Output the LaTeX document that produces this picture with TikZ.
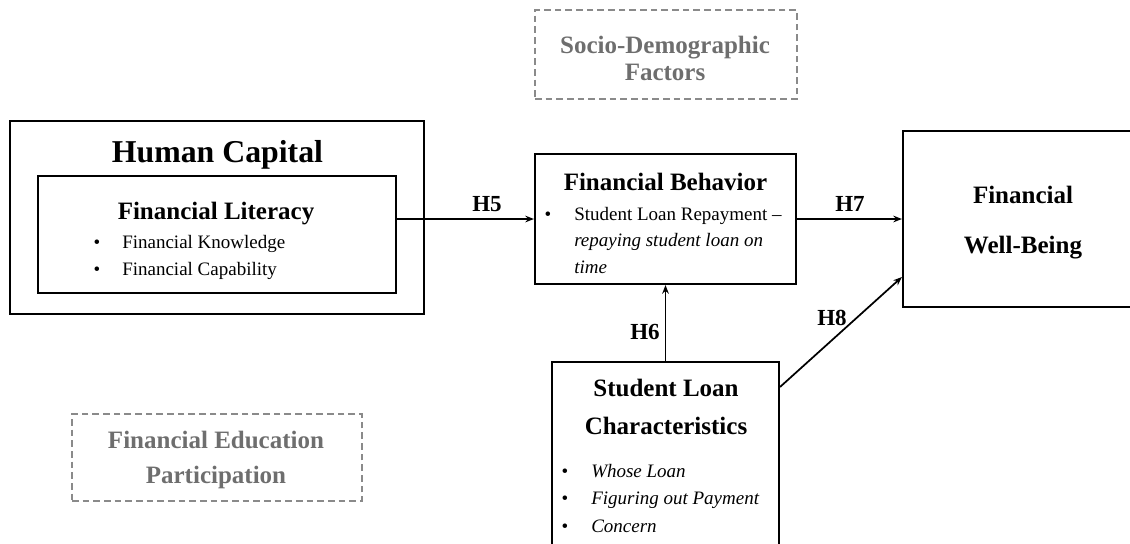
\documentclass[tikz,border=0pt]{standalone}
\usepackage{fontspec}
\setmainfont{Liberation Serif}
\usetikzlibrary{arrows.meta}
\definecolor{dgray}{HTML}{8A8A8A}
\definecolor{tgray}{HTML}{6E6E6E}
\begin{document}
\begin{tikzpicture}[x=0.75pt,y=-0.75pt,
  box/.style={draw, line width=1.6pt, inner sep=0pt},
  thinbox/.style={draw, line width=1pt, inner sep=0pt},
  dbox/.style={draw=dgray, line width=1pt, dash pattern=on 5pt off 3pt, inner sep=0pt},
  head/.style={font=\bfseries\fontsize{18.75}{22}\selectfont, anchor=base, inner sep=0pt},
  bighead/.style={font=\bfseries\fontsize{23.85}{28}\selectfont, anchor=base, inner sep=0pt},
  ghead/.style={head, text=tgray},
  itemtxt/.style={font=\fontsize{14.25}{17}\selectfont, anchor=base west, inner sep=0pt},
  bul/.style={font=\fontsize{14.25}{17}\selectfont, anchor=base, inner sep=0pt},
  hlab/.style={font=\bfseries\fontsize{17.25}{20}\selectfont, anchor=base, inner sep=0pt},
  arr/.style={line width=1.3pt, -{Stealth[length=6.5pt,width=5pt]}},
  conn/.style={line width=1.3pt}
]
\useasboundingbox (0,0) rectangle (1130,543);
\clip (0,0) rectangle (1130,543);

% boxes
\node[box, minimum width=310.5pt, minimum height=144.75pt] (hc) at (217,217.5) {};
\node[thinbox, minimum width=268.5pt, minimum height=87.75pt] (fl) at (217,234.5) {};
\node[box, minimum width=195.75pt, minimum height=97.5pt] (fb) at (665.5,219) {};
\node[box, minimum width=180pt, minimum height=132pt] (wb) at (1023,219) {};
\node[box, minimum width=170.25pt, minimum height=163.5pt] (slc) at (665.5,471) {};
\node[dbox, minimum width=196.5pt, minimum height=66.75pt] (sdf) at (666,54.5) {};
\node[dbox, minimum width=217.5pt, minimum height=65.25pt] (fep) at (217,457.5) {};

% Human capital
\node[bighead] (hct) at (217.5,162) {Human Capital};
\node[head] (flt) at (216,219) {Financial Literacy};
\node[bul] (flb1) at (97,248) {•};
\node[itemtxt] (fli1) at (122,248) {Financial Knowledge};
\node[bul] (flb2) at (97,275) {•};
\node[itemtxt] (fli2) at (122,275) {Financial Capability};

% Financial behavior
\node[head] (fbt) at (665.5,190) {Financial Behavior};
\node[bul] (fbb1) at (548,220) {•};
\node[itemtxt] (fbi1) at (574,220) {Student Loan Repayment –};
\node[itemtxt] (fbi2) at (574,246.5) {\itshape repaying student loan on};
\node[itemtxt] (fbi3) at (574,273) {\itshape time};

% Financial well-being
\node[head] (wbt1) at (1023,203) {Financial};
\node[head] (wbt2) at (1023,253) {Well-Being};

% Student loan characteristics
\node[head] (slt1) at (666,396) {Student Loan};
\node[head] (slt2) at (666,434) {Characteristics};
\node[bul] (slb1) at (565,477) {•};
\node[itemtxt] (sli1) at (591,477) {\itshape Whose Loan};
\node[bul] (slb2) at (565,504) {•};
\node[itemtxt] (sli2) at (591,504) {\itshape Figuring out Payment};
\node[bul] (slb3) at (565,532) {•};
\node[itemtxt] (sli3) at (591,532) {\itshape Concern};

% dashed boxes text
\node[ghead] (sdft1) at (665,53) {Socio-Demographic};
\node[ghead] (sdft2) at (665,80) {Factors};
\node[ghead] (fept1) at (216,448) {Financial Education};
\node[ghead] (fept2) at (216,483) {Participation};

% connectors
\draw[arr] (fl.east |- fb.west) -- (fb.west);
\draw[arr] (fb.east) -- (wb.west);
\draw[arr] (slc.north) -- (fb.south);
\coordinate (h8s) at ([yshift=-19.5pt]slc.north east);
\coordinate (h8e) at ([yshift=-43.5pt]wb.west);
\draw[arr] (h8s) -- (h8e);

% labels
\node[hlab] (h5) at (487,211) {H5};
\node[hlab] (h7) at (850,211) {H7};
\node[hlab] (h6) at (645,339) {H6};
\node[hlab] (h8) at (832,325) {H8};
\end{tikzpicture}
\end{document}
